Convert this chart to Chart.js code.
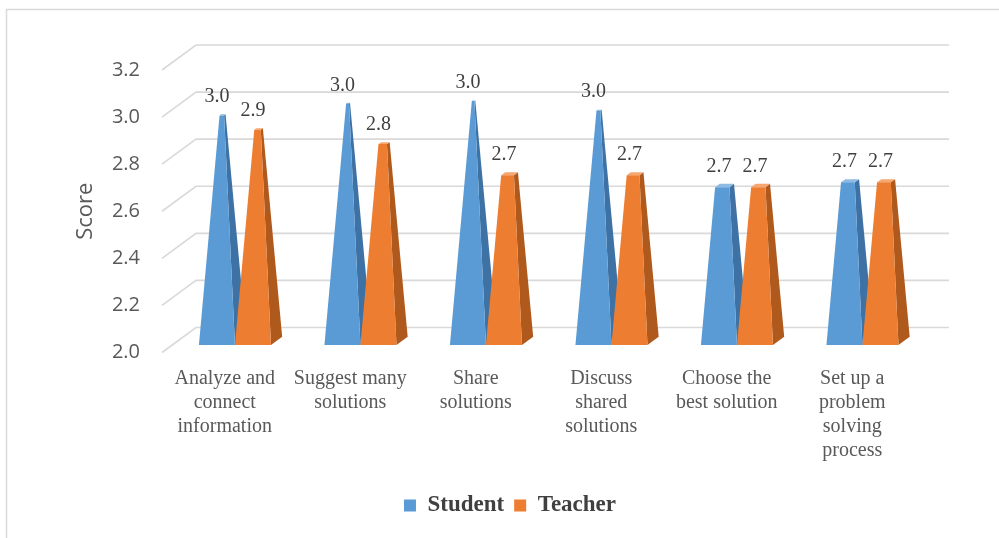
<!DOCTYPE html>
<html>
<head>
<meta charset="utf-8">
<title>Problem solving scores</title>
<script src="https://cdn.jsdelivr.net/npm/chart.js@4.4.1/dist/chart.umd.min.js"></script>
<style>
  html, body { margin: 0; padding: 0; background: #ffffff; }
  canvas { display: block; }
</style>
</head>
<body>
<canvas id="scoreChart" width="999" height="538"></canvas>
<script>
// Skill categories (each entry is one wrapped axis label)
const categories = [
  ['Analyze and', 'connect', 'information'],
  ['Suggest many', 'solutions'],
  ['Share', 'solutions'],
  ['Discuss', 'shared', 'solutions'],
  ['Choose the', 'best solution'],
  ['Set up a', 'problem', 'solving', 'process']
];
const seriesNames = ['Student', 'Teacher'];
const studentScores = [2.96, 3.01, 3.02, 2.98, 2.66, 2.68];
const teacherScores = [2.90, 2.84, 2.71, 2.71, 2.66, 2.68];
const scoreTicks = [2.0, 2.2, 2.4, 2.6, 2.8, 3.0, 3.2];

// Shading for the three visible faces of each pyramid
const faceColors = [
  { front: '#5B9BD5', side: '#3E72A5', top: '#8DBBE4' },
  { front: '#ED7D31', side: '#B0591D', top: '#F6A66F' }
];

// Oblique projection used for the 3-D look
const DEPTH_X = 34;      // horizontal shift of the back wall
const DEPTH_Y = 25;      // vertical shift of the back wall
const BAR_FRONT = 0.30;  // depth of the pyramid's front face (0 = front, 1 = wall)
const BAR_BACK = 0.63;   // depth of the pyramid's back face
const PEAK = 3.1;        // value at which a pyramid would close to a point
const LEGEND_CENTER_X = 510;

function project(yScale, px, value, depth) {
  return [px + depth * DEPTH_X, yScale.getPixelForValue(value) - depth * DEPTH_Y];
}

function fillPoly(ctx, pts, color) {
  ctx.beginPath();
  ctx.moveTo(pts[0][0], pts[0][1]);
  for (let i = 1; i < pts.length; i++) ctx.lineTo(pts[i][0], pts[i][1]);
  ctx.closePath();
  ctx.fillStyle = color;
  ctx.fill();
}

function pyramidGeometry(yScale, x, width, value) {
  const base = yScale.min;
  const s = Math.max(0, (PEAK - value) / (PEAK - base));
  const hw = width / 2;
  const dc = (BAR_FRONT + BAR_BACK) / 2;
  const hd = (BAR_BACK - BAR_FRONT) / 2;
  return {
    FL: project(yScale, x - hw, base, BAR_FRONT),
    FR: project(yScale, x + hw, base, BAR_FRONT),
    BR: project(yScale, x + hw, base, BAR_BACK),
    tFL: project(yScale, x - hw * s, value, dc - hd * s),
    tFR: project(yScale, x + hw * s, value, dc - hd * s),
    tBR: project(yScale, x + hw * s, value, dc + hd * s),
    tBL: project(yScale, x - hw * s, value, dc + hd * s)
  };
}

const pyramidPlugin = {
  id: 'pyramidPlugin',
  beforeDraw(chart) {
    const ctx = chart.ctx;
    ctx.save();
    ctx.strokeStyle = '#D9D9D9';
    ctx.lineWidth = 1.5;
    ctx.strokeRect(6.5, 9.5, chart.width, chart.height);
    ctx.restore();
  },
  afterLayout(chart) {
    const lg = chart.legend;
    if (!lg) return;
    const shift = LEGEND_CENTER_X - (lg.left + lg.right) / 2;
    lg.left += shift;
    lg.right += shift;
  },
  beforeDatasetsDraw(chart) {
    // back wall gridlines with their oblique side connectors
    const { ctx, chartArea: a, scales: { y } } = chart;
    ctx.save();
    ctx.strokeStyle = '#D9D9D9';
    ctx.lineWidth = 1.6;
    y.ticks.forEach(t => {
      const py = y.getPixelForValue(t.value);
      ctx.beginPath();
      ctx.moveTo(a.left, py);
      ctx.lineTo(a.left + DEPTH_X, py - DEPTH_Y);
      ctx.lineTo(a.right + DEPTH_X, py - DEPTH_Y);
      ctx.stroke();
    });
    ctx.restore();
  },
  beforeDatasetDraw() {
    // flat bars are replaced by pyramids below
    return false;
  },
  afterDatasetsDraw(chart) {
    const ctx = chart.ctx;
    const y = chart.scales.y;
    const sets = chart.data.datasets;
    const labels = [];
    ctx.save();
    for (let i = 0; i < chart.data.labels.length; i++) {
      sets.forEach((ds, di) => {
        const el = chart.getDatasetMeta(di).data[i];
        const { x, width } = el.getProps(['x', 'width'], true);
        const v = ds.data[i];
        const g = pyramidGeometry(y, x, width, v);
        const c = faceColors[di];
        fillPoly(ctx, [g.FR, g.BR, g.tBR, g.tFR], c.side);
        fillPoly(ctx, [g.tFL, g.tFR, g.tBR, g.tBL], c.top);
        fillPoly(ctx, [g.FL, g.FR, g.tFR, g.tFL], c.front);
        labels.push({ text: v.toFixed(1), x: x + BAR_FRONT * DEPTH_X, y: g.tBR[1] - 17.5 });
      });
    }
    ctx.font = '20px "Liberation Serif", "Times New Roman", serif';
    ctx.fillStyle = '#404040';
    ctx.textAlign = 'center';
    ctx.textBaseline = 'middle';
    labels.forEach(l => ctx.fillText(l.text, l.x, l.y));
    ctx.restore();
  }
};

new Chart(document.getElementById('scoreChart'), {
  type: 'bar',
  data: {
    labels: categories,
    datasets: [
      { label: seriesNames[0], data: studentScores, backgroundColor: faceColors[0].front, borderWidth: 0 },
      { label: seriesNames[1], data: teacherScores, backgroundColor: faceColors[1].front, borderWidth: 0 }
    ]
  },
  options: {
    responsive: false,
    animation: false,
    categoryPercentage: 0.574,
    barPercentage: 1.0,
    layout: { padding: { left: 0, right: 84, top: 70, bottom: 11 } },
    plugins: {
      tooltip: { enabled: false },
      legend: {
        position: 'bottom',
        labels: {
          boxWidth: 12,
          boxHeight: 12,
          padding: 10,
          color: '#404040',
          font: { family: '"Liberation Serif", "Times New Roman", serif', size: 23, weight: 'bold' }
        }
      }
    },
    scales: {
      x: {
        grid: { display: false, drawTicks: false },
        border: { display: false },
        ticks: {
          color: '#595959',
          font: { family: '"Liberation Serif", "Times New Roman", serif', size: 20, lineHeight: 1.2 },
          padding: 14.5,
          maxRotation: 0,
          autoSkip: false
        },
        afterFit(scale) { scale.height = 131.5; }
      },
      y: {
        min: 2.0,
        max: 3.2,
        afterBuildTicks(scale) { scale.ticks = scoreTicks.map(v => ({ value: v })); },
        grid: { display: false, drawTicks: false },
        border: { display: false },
        ticks: {
          color: '#595959',
          font: { family: '"Open Sans", sans-serif', size: 20 },
          padding: 22,
          callback: v => Number(v).toFixed(1)
        },
        title: {
          display: true,
          text: 'Score',
          color: '#595959',
          font: { family: '"Open Sans", sans-serif', size: 22 },
          padding: { top: 73, bottom: 0 }
        },
        afterFit(scale) { scale.width = 162; }
      }
    }
  },
  plugins: [pyramidPlugin]
});
</script>
</body>
</html>
